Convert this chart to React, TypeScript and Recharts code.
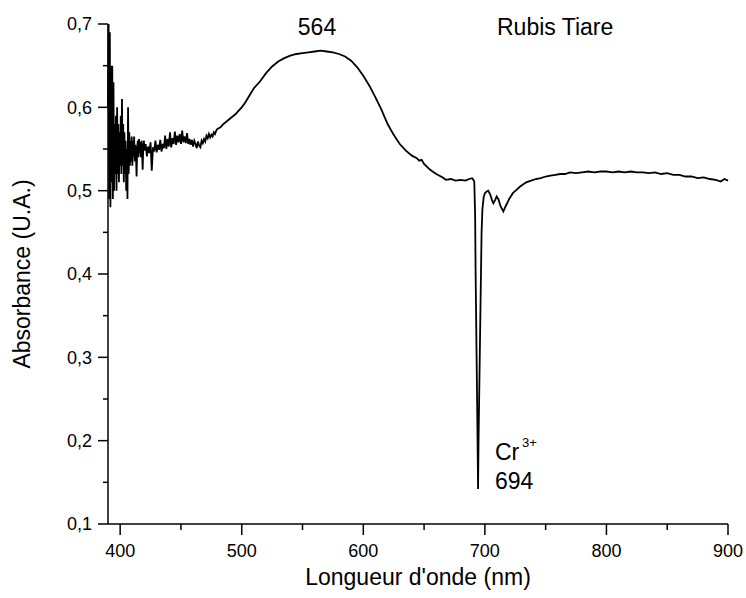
import { LineChart, Line, XAxis, YAxis } from "recharts"

// [wavelength nm, absorbance]
const noisyStart: [number, number][] = [
  [390.0, 0.60], [390.5, 0.70], [391.0, 0.49], [391.5, 0.69], [392.0, 0.48], [392.5, 0.65],
  [393.0, 0.51], [393.5, 0.65], [394.0, 0.49], [394.5, 0.63], [395.0, 0.50], [395.5, 0.58],
  [396.0, 0.52], [396.5, 0.59], [397.0, 0.50], [397.5, 0.60], [398.0, 0.52], [398.5, 0.58],
  [399.0, 0.51], [399.5, 0.57], [400.0, 0.53], [400.5, 0.59], [401.0, 0.52], [401.5, 0.61],
  [402.0, 0.53], [402.5, 0.58], [403.0, 0.51], [403.5, 0.57], [404.0, 0.52], [404.5, 0.56],
  [405.0, 0.50], [405.5, 0.55], [406.0, 0.49], [406.5, 0.60], [407.0, 0.52], [407.5, 0.57],
  [408.0, 0.53], [408.5, 0.56], [409.0, 0.535], [409.5, 0.565], [410.0, 0.53], [410.5, 0.56],
  [411.0, 0.54], [411.5, 0.565], [412.0, 0.535], [412.5, 0.555], [413.0, 0.545], [413.5, 0.517],
  [414.0, 0.55], [414.5, 0.56], [415.0, 0.54], [415.5, 0.562], [416.0, 0.545], [416.5, 0.558],
  [417.0, 0.54], [417.5, 0.56], [418.0, 0.548], [418.5, 0.525], [419.0, 0.552], [419.5, 0.56],
]

const baseline: [number, number][] = [
  [420, 0.548], [421, 0.556], [422, 0.541], [423, 0.553], [424, 0.545], [425, 0.558],
  [426, 0.524], [427, 0.552], [428, 0.547], [429, 0.560], [430, 0.546], [431, 0.555],
  [432, 0.549], [433, 0.561], [434, 0.547], [435, 0.556], [436, 0.551], [437, 0.566],
  [438, 0.550], [439, 0.562], [440, 0.553], [441, 0.570], [442, 0.552], [443, 0.563],
  [444, 0.556], [445, 0.571], [446, 0.555], [447, 0.566], [448, 0.558], [449, 0.568],
  [450, 0.556], [451, 0.572], [452, 0.558], [453, 0.565], [454, 0.557], [455, 0.569],
  [456, 0.556], [457, 0.562], [458, 0.555], [459, 0.561], [460, 0.553], [461, 0.560],
  [462, 0.556], [463, 0.551], [464, 0.559], [465, 0.554], [466, 0.552], [467, 0.560],
  [468, 0.557], [469, 0.562], [470, 0.559], [471, 0.566], [472, 0.563], [473, 0.568],
  [474, 0.564], [475, 0.567], [476, 0.565], [477, 0.570], [478, 0.568], [479, 0.572],
  [480, 0.574],
]

const broadBand: [number, number][] = [
  [482.5, 0.576], [485, 0.580], [487.5, 0.583], [490, 0.586], [492.5, 0.589], [495, 0.592],
  [497.5, 0.596], [500, 0.600], [502.5, 0.605], [505, 0.611], [507.5, 0.617], [510, 0.623],
  [515, 0.631], [520, 0.641], [525, 0.649], [530, 0.655], [535, 0.659], [540, 0.662],
  [545, 0.664], [550, 0.665], [555, 0.666], [560, 0.667], [565, 0.668], [570, 0.667],
  [575, 0.666], [580, 0.664], [585, 0.661], [590, 0.656], [595, 0.648], [600, 0.638],
  [605, 0.626], [610, 0.612], [615, 0.597], [620, 0.580], [625, 0.567], [630, 0.556],
  [635, 0.548], [640, 0.542], [644, 0.539], [646, 0.536], [648, 0.537], [650, 0.532],
  [655, 0.525], [660, 0.520], [665, 0.516], [668, 0.513], [672, 0.514], [676, 0.512],
  [680, 0.513], [684, 0.512], [687, 0.514], [689.5, 0.515], [690.5, 0.513],
]

const crLine: [number, number][] = [
  [691.3, 0.511], [692.0, 0.47], [692.4, 0.40], [693.2, 0.30], [694.0, 0.20], [694.4, 0.142],
  [694.8, 0.20], [695.8, 0.30], [696.8, 0.40], [697.3, 0.45], [698.0, 0.478], [699.0, 0.492],
  [700.0, 0.497], [701.5, 0.499], [702.8, 0.500], [704.5, 0.495], [706.0, 0.488], [707.0, 0.485],
  [708.5, 0.489], [709.7, 0.493], [711.0, 0.490], [713.0, 0.481], [715.2, 0.475], [717.0, 0.481],
  [720.0, 0.490], [723.0, 0.497], [726.0, 0.501], [729.0, 0.505], [734.0, 0.510], [738.0, 0.512],
]

const plateau: [number, number][] = [
  [742, 0.514], [746, 0.515], [750, 0.517], [754, 0.518], [758, 0.519], [762, 0.520],
  [766, 0.520], [770, 0.522], [775, 0.521], [780, 0.522], [785, 0.523], [790, 0.522],
  [795, 0.523], [800, 0.523], [805, 0.522], [810, 0.523], [815, 0.522], [820, 0.523],
  [825, 0.522], [830, 0.522], [835, 0.521], [840, 0.522], [845, 0.520], [850, 0.521],
  [855, 0.519], [860, 0.519], [865, 0.517], [870, 0.517], [875, 0.515], [880, 0.516],
  [885, 0.514], [890, 0.513], [894, 0.511], [897, 0.514], [900, 0.512],
]

const xTicks = [400, 450, 500, 550, 600, 650, 700, 750, 800, 850, 900]
const xLabels = [400, 500, 600, 700, 800, 900]
const yTicks = [0.1, 0.15, 0.2, 0.25, 0.3, 0.35, 0.4, 0.45, 0.5, 0.55, 0.6, 0.65, 0.7]
const yLabels = [0.1, 0.2, 0.3, 0.4, 0.5, 0.6, 0.7]

const data = [...noisyStart, ...baseline, ...broadBand, ...crLine, ...plateau].map(([nm, abs]) => ({ nm, abs }))

const font = "'Liberation Sans', Arial, sans-serif"

function XTick(props: any) {
  const { x, y, payload } = props
  const major = xLabels.includes(payload.value)
  return (
    <g>
      <line x1={x} x2={x} y1={y} y2={y + (major ? 11 : 6)} stroke="#000" strokeWidth={1.5} />
      {major && (
        <text x={x} y={y + 33} textAnchor="middle" fontSize={18} fill="#000" fontFamily={font}>
          {payload.value}
        </text>
      )}
    </g>
  )
}

function YTick(props: any) {
  const { x, y, payload } = props
  const major = yLabels.some((v) => Math.abs(v - payload.value) < 1e-6)
  return (
    <g>
      <line x1={x - (major ? 10 : 5)} x2={x} y1={y} y2={y} stroke="#000" strokeWidth={1.5} />
      {major && (
        <text x={x - 16} y={y} dy="0.36em" textAnchor="end" fontSize={18} fill="#000" fontFamily={font}>
          {payload.value.toFixed(1).replace(".", ",")}
        </text>
      )}
    </g>
  )
}

export default function App() {
  return (
    <div style={{ position: "absolute", left: 0, top: 0, width: 746, height: 598, background: "#fff", fontFamily: font }}>
      <LineChart width={746} height={598} data={data} margin={{ top: 24, right: 18, bottom: 0, left: 0 }}>
        <XAxis
          dataKey="nm"
          type="number"
          domain={[390, 900]}
          ticks={xTicks}
          interval={0}
          tickSize={0}
          tickMargin={0}
          tickLine={false}
          tick={<XTick />}
          axisLine={{ stroke: "#000", strokeWidth: 1.5 }}
          height={74}
        />
        <YAxis
          type="number"
          domain={[0.1, 0.7]}
          ticks={yTicks}
          interval={0}
          tickSize={0}
          tickMargin={0}
          tickLine={false}
          tick={<YTick />}
          axisLine={{ stroke: "#000", strokeWidth: 1.5 }}
          width={108}
        />
        <Line type="linear" dataKey="abs" stroke="#000" strokeWidth={1.8} dot={false} isAnimationActive={false} />
      </LineChart>
      <svg width={746} height={598} style={{ position: "absolute", left: 0, top: 0, pointerEvents: "none" }}>
        <g fontFamily={font} fill="#000">
          <text x={317} y={35} textAnchor="middle" fontSize={23}>564</text>
          <text x={497} y={35} fontSize={23}>Rubis Tiare</text>
          <text x={495} y={460} fontSize={23}>Cr</text>
          <text x={522} y={447} fontSize={13}>3+</text>
          <text x={495} y={489} fontSize={23}>694</text>
          <text x={418} y={585} textAnchor="middle" fontSize={23}>Longueur d'onde (nm)</text>
          <text x={30} y={274} textAnchor="middle" fontSize={23} transform="rotate(-90 30 274)">
            Absorbance (U.A.)
          </text>
        </g>
      </svg>
    </div>
  )
}
